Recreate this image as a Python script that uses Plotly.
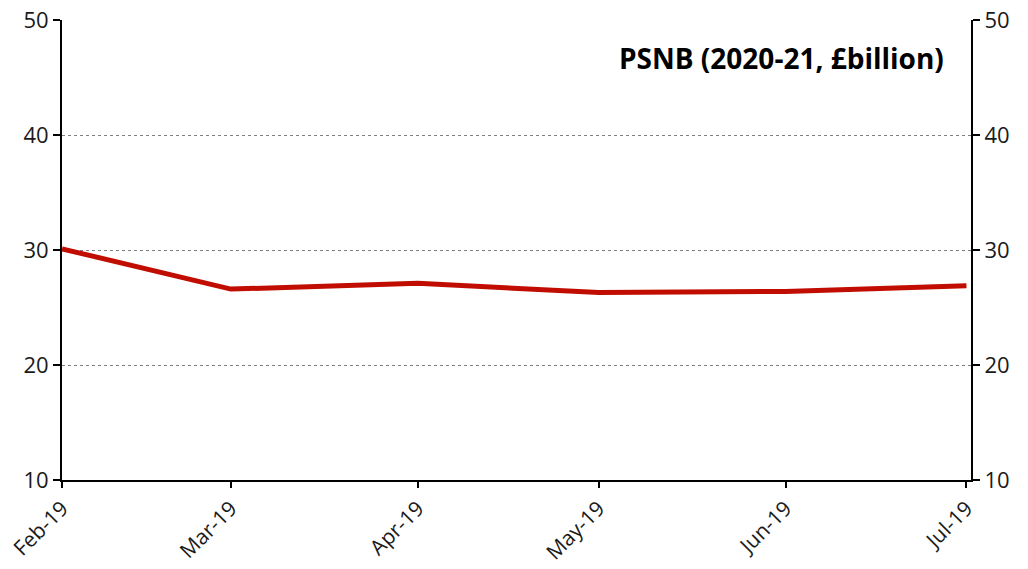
import plotly.graph_objects as go

dates = ["2019-02-01", "2019-03-01", "2019-04-01", "2019-05-01", "2019-06-01", "2019-07-01"]
psnb = [30.1, 26.6, 27.1, 26.3, 26.4, 26.9]
tick_labels = ["Feb-19", "Mar-19", "Apr-19", "May-19", "Jun-19", "Jul-19"]
y_ticks = [10, 20, 30, 40, 50]
title_text = "PSNB (2020-21, £billion)"

FONT = "Open Sans, Noto Sans, DejaVu Sans, sans-serif"

fig = go.Figure()
fig.add_trace(go.Scatter(x=dates, y=psnb, mode="lines",
                         line=dict(color="#C00D00", width=5), showlegend=False))
# invisible trace for right axis
fig.add_trace(go.Scatter(x=dates, y=psnb, mode="lines", yaxis="y2",
                         line=dict(width=0), opacity=0, showlegend=False, hoverinfo="skip"))

fig.update_layout(
    width=1028, height=569,
    margin=dict(l=62, r=57, t=20, b=89),
    paper_bgcolor="white", plot_bgcolor="white",
    font=dict(family=FONT, size=20, color="#1a1a1a"),
    xaxis=dict(
        type="date", range=["2019-02-01", "2019-07-01 18:00"],
        tickvals=dates, ticktext=tick_labels, tickangle=-45,
        showline=True, linecolor="black", linewidth=2,
        ticks="outside", ticklen=6, tickcolor="black", tickwidth=1.5,
        showgrid=False, zeroline=False, automargin=False,
        tickfont=dict(size=21), ticklabeloverflow="allow",
    ),
    yaxis=dict(
        range=[10, 50], tickvals=y_ticks,
        showline=True, linecolor="black", linewidth=2,
        ticks="outside", ticklen=7, tickcolor="black", tickwidth=1.5,
        showgrid=True, gridcolor="#808080", griddash="dot", gridwidth=1,
        zeroline=False, automargin=False, tickfont=dict(size=22),
        ticklabeloverflow="allow",
    ),
    yaxis2=dict(
        range=[10, 50], tickvals=y_ticks, overlaying="y", side="right",
        showline=True, linecolor="black", linewidth=2,
        ticks="outside", ticklen=7, tickcolor="black", tickwidth=1.5,
        showgrid=False, zeroline=False, automargin=False, tickfont=dict(size=22),
        ticklabeloverflow="allow",
    ),
    annotations=[dict(
        text="<b>" + title_text + "</b>", xref="paper", yref="paper",
        x=0.973, y=0.917, xanchor="right", yanchor="middle", showarrow=False,
        font=dict(size=28, color="black", family=FONT),
    )],
)

fig.write_html("out.html", config={"displayModeBar": False},
               post_script="document.body.style.margin='0';")
